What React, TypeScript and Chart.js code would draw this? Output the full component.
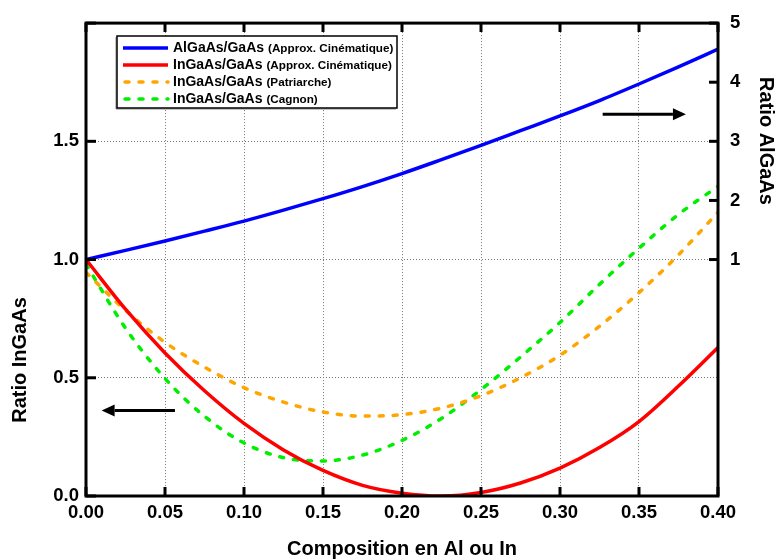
import React, { useEffect, useRef } from "react";
import { Chart, registerables } from "chart.js";

Chart.register(...registerables);

// ---- Data ----
const compositions = [0, 0.025, 0.05, 0.075, 0.1, 0.125, 0.15, 0.175, 0.2, 0.225, 0.25, 0.275, 0.3, 0.325, 0.35, 0.375, 0.4];
// right axis (Ratio AlGaAs)
const algaasKinematic = [1.0, 1.155, 1.315, 1.48, 1.65, 1.835, 2.03, 2.235, 2.455, 2.69, 2.93, 3.18, 3.43, 3.69, 3.97, 4.26, 4.56];
// left axis (Ratio InGaAs)
const ingaasKinematic = [1.0, 0.79, 0.605, 0.445, 0.307, 0.195, 0.108, 0.045, 0.012, 0.0, 0.015, 0.055, 0.118, 0.205, 0.315, 0.465, 0.628];
const ingaasPatriarche = [0.945, 0.785, 0.65, 0.545, 0.458, 0.397, 0.355, 0.338, 0.344, 0.372, 0.424, 0.5, 0.595, 0.718, 0.86, 1.02, 1.2];
const ingaasCagnon = [0.98, 0.71, 0.497, 0.337, 0.224, 0.162, 0.148, 0.173, 0.235, 0.328, 0.45, 0.588, 0.734, 0.895, 1.048, 1.191, 1.31];

const xTicks = [0, 0.05, 0.1, 0.15, 0.2, 0.25, 0.3, 0.35, 0.4];
const leftTicks = [0, 0.5, 1.0, 1.5, 2.0];
const rightTicks = [1, 2, 3, 4, 5];

const legendMain = ["AlGaAs/GaAs", "InGaAs/GaAs", "InGaAs/GaAs", "InGaAs/GaAs"];
const legendSub = ["(Approx. Cinématique)", "(Approx. Cinématique)", "(Patriarche)", "(Cagnon)"];

const xTitle = "Composition en Al ou In";
const leftTitle = "Ratio InGaAs";
const rightTitle = "Ratio AlGaAs";

// arrows in data units: [xTail, xTip, yLeftAxis]
const arrowLeft = [0.0563, 0.0099, 0.362];
const arrowRight = [0.327, 0.3797, 1.614];

const FONT = "'Liberation Sans', Arial, Helvetica, sans-serif";

const toPts = (ys: number[]) => compositions.map((x, i) => ({ x, y: ys[i] }));

const framePlugin = {
  id: "framePlugin",
  afterDraw(chart: any) {
    const { ctx, chartArea: ca, scales } = chart;
    const xs = scales.x, yl = scales.y, yr = scales.y2;
    ctx.save();
    // inward ticks
    ctx.strokeStyle = "#000";
    ctx.lineWidth = 3;
    ctx.setLineDash([]);
    ctx.lineCap = "butt";
    xTicks.forEach((v) => {
      const px = xs.getPixelForValue(v);
      ctx.beginPath();
      ctx.moveTo(px, ca.bottom);
      ctx.lineTo(px, ca.bottom - 9);
      ctx.moveTo(px, ca.top);
      ctx.lineTo(px, ca.top + 9);
      ctx.stroke();
    });
    leftTicks.forEach((v) => {
      const py = yl.getPixelForValue(v);
      ctx.beginPath();
      ctx.moveTo(ca.left, py);
      ctx.lineTo(ca.left + 10, py);
      ctx.stroke();
    });
    rightTicks.forEach((v) => {
      const py = yr.getPixelForValue(v);
      ctx.beginPath();
      ctx.moveTo(ca.right, py);
      ctx.lineTo(ca.right - 9, py);
      ctx.stroke();
    });
    // frame
    ctx.lineWidth = 3;
    ctx.strokeRect(ca.left, ca.top, ca.right - ca.left, ca.bottom - ca.top);

    // axis titles (y)
    ctx.fillStyle = "#000";
    ctx.font = `bold 20px ${FONT}`;
    ctx.textAlign = "center";
    ctx.textBaseline = "middle";
    ctx.save();
    ctx.translate(20, 360);
    ctx.rotate(-Math.PI / 2);
    ctx.fillText(leftTitle, 0, 0);
    ctx.restore();
    ctx.save();
    ctx.translate(766, 141);
    ctx.rotate(Math.PI / 2);
    ctx.fillText(rightTitle, 0, 0);
    ctx.restore();

    // arrows
    const drawArrow = (a: number[]) => {
      const x1 = xs.getPixelForValue(a[0]);
      const x2 = xs.getPixelForValue(a[1]);
      const y = yl.getPixelForValue(a[2]);
      const dir = x2 > x1 ? 1 : -1;
      const headLen = 13;
      ctx.beginPath();
      ctx.strokeStyle = "#000";
      ctx.lineWidth = 3;
      ctx.moveTo(x1, y);
      ctx.lineTo(x2 - dir * headLen, y);
      ctx.stroke();
      ctx.beginPath();
      ctx.fillStyle = "#000";
      ctx.moveTo(x2, y);
      ctx.lineTo(x2 - dir * headLen, y - 6);
      ctx.lineTo(x2 - dir * headLen, y + 6);
      ctx.closePath();
      ctx.fill();
    };
    drawArrow(arrowLeft);
    drawArrow(arrowRight);

    // legend
    const lx = 117, ly = 36, lw = 280, lh = 72;
    ctx.fillStyle = "#fff";
    ctx.fillRect(lx, ly, lw, lh);
    ctx.strokeStyle = "#888";
    ctx.lineWidth = 1;
    ctx.beginPath();
    ctx.moveTo(lx - 1, ly + 1);
    ctx.lineTo(lx - 1, ly + lh + 1);
    ctx.lineTo(lx + lw - 1, ly + lh + 1);
    ctx.stroke();
    ctx.strokeStyle = "#000";
    ctx.lineWidth = 1.5;
    ctx.strokeRect(lx, ly, lw, lh);
    chart.data.datasets.forEach((ds: any, i: number) => {
      const y = ly + 12 + i * 17;
      ctx.beginPath();
      ctx.strokeStyle = ds.borderColor;
      ctx.lineWidth = 3.5;
      ctx.setLineDash(ds.borderDash || []);
      ctx.lineCap = ds.borderDash ? "round" : "butt";
      ctx.moveTo(ds.borderDash ? 125 : 123, y);
      ctx.lineTo(168, y);
      ctx.stroke();
      ctx.setLineDash([]);
      ctx.fillStyle = "#000";
      ctx.textBaseline = "middle";
      ctx.textAlign = "left";
      ctx.font = `bold 14px ${FONT}`;
      ctx.fillText(legendMain[i], 173, y);
      const w = ctx.measureText(legendMain[i]).width;
      ctx.font = `bold 11.7px ${FONT}`;
      ctx.fillText(legendSub[i], 173 + w + 4, y + 1);
    });
    ctx.restore();
  },
};

export default function App() {
  const ref = useRef<HTMLCanvasElement | null>(null);
  useEffect(() => {
    if (!ref.current) return;
    const tickFont = { family: FONT, size: 18.5, weight: "bold" as const };
    const titleFont = { family: FONT, size: 20, weight: "bold" as const, lineHeight: 1 };
    const gridOpts = { color: "#777", lineWidth: 1, drawTicks: false };
    const chart = new Chart(ref.current, {
      type: "line",
      data: {
        datasets: [
          {
            label: legendMain[0] + " " + legendSub[0],
            data: toPts(algaasKinematic),
            yAxisID: "y2",
            borderColor: "#0000ff",
            borderWidth: 3.5,
            pointRadius: 0,
            cubicInterpolationMode: "monotone",
          },
          {
            label: legendMain[1] + " " + legendSub[1],
            data: toPts(ingaasKinematic),
            yAxisID: "y",
            borderColor: "#ff0000",
            borderWidth: 3.5,
            pointRadius: 0,
            cubicInterpolationMode: "monotone",
          },
          {
            label: legendMain[2] + " " + legendSub[2],
            data: toPts(ingaasPatriarche),
            yAxisID: "y",
            borderColor: "#ffa500",
            borderWidth: 3.5,
            borderDash: [4, 10],
            borderCapStyle: "round",
            pointRadius: 0,
            cubicInterpolationMode: "monotone",
          },
          {
            label: legendMain[3] + " " + legendSub[3],
            data: toPts(ingaasCagnon),
            yAxisID: "y",
            borderColor: "#00ee00",
            borderWidth: 3.5,
            borderDash: [4, 10],
            borderCapStyle: "round",
            pointRadius: 0,
            cubicInterpolationMode: "monotone",
          },
        ],
      },
      options: {
        responsive: false,
        animation: false,
        layout: { padding: { top: 20, left: 0, right: 0, bottom: 0 } },
        plugins: { legend: { display: false }, tooltip: { enabled: false } },
        scales: {
          x: {
            type: "linear",
            min: 0,
            max: 0.4,
            afterBuildTicks: (s: any) => {
              s.ticks = xTicks.map((v) => ({ value: v }));
            },
            afterFit: (s: any) => {
              s.height = 63;
            },
            ticks: {
              color: "#000",
              font: tickFont,
              padding: 6,
              maxRotation: 0,
              autoSkip: false,
              callback: (v: any) => Number(v).toFixed(2),
            },
            grid: gridOpts,
            border: { display: false, dash: [1, 2] },
            title: {
              display: true,
              text: xTitle,
              color: "#000",
              font: titleFont,
              padding: { top: 0, bottom: 0 },
            },
          },
          y: {
            type: "linear",
            position: "left",
            min: 0,
            max: 2,
            afterBuildTicks: (s: any) => {
              s.ticks = leftTicks.map((v) => ({ value: v }));
            },
            afterFit: (s: any) => {
              s.width = 86;
            },
            ticks: {
              color: "#000",
              font: tickFont,
              padding: 7,
              autoSkip: false,
              callback: (v: any) => (Number(v) >= 2 ? "" : Number(v).toFixed(1)),
            },
            grid: gridOpts,
            border: { display: false, dash: [1, 2] },
            title: { display: false },
          },
          y2: {
            type: "linear",
            position: "right",
            min: -3,
            max: 5,
            afterBuildTicks: (s: any) => {
              s.ticks = rightTicks.map((v) => ({ value: v }));
            },
            afterFit: (s: any) => {
              s.width = 62;
            },
            ticks: {
              color: "#000",
              font: tickFont,
              padding: 12,
              autoSkip: false,
              callback: (v: any) => String(v),
            },
            grid: { display: false, drawTicks: false },
            border: { display: false },
            title: { display: false },
          },
        },
      } as any,
      plugins: [framePlugin],
    });
    return () => chart.destroy();
  }, []);

  return (
    <div style={{ position: "absolute", left: 0, top: 0, width: 780, height: 559, background: "#fff" }}>
      <canvas ref={ref} width={780} height={559} style={{ display: "block" }} />
    </div>
  );
}
